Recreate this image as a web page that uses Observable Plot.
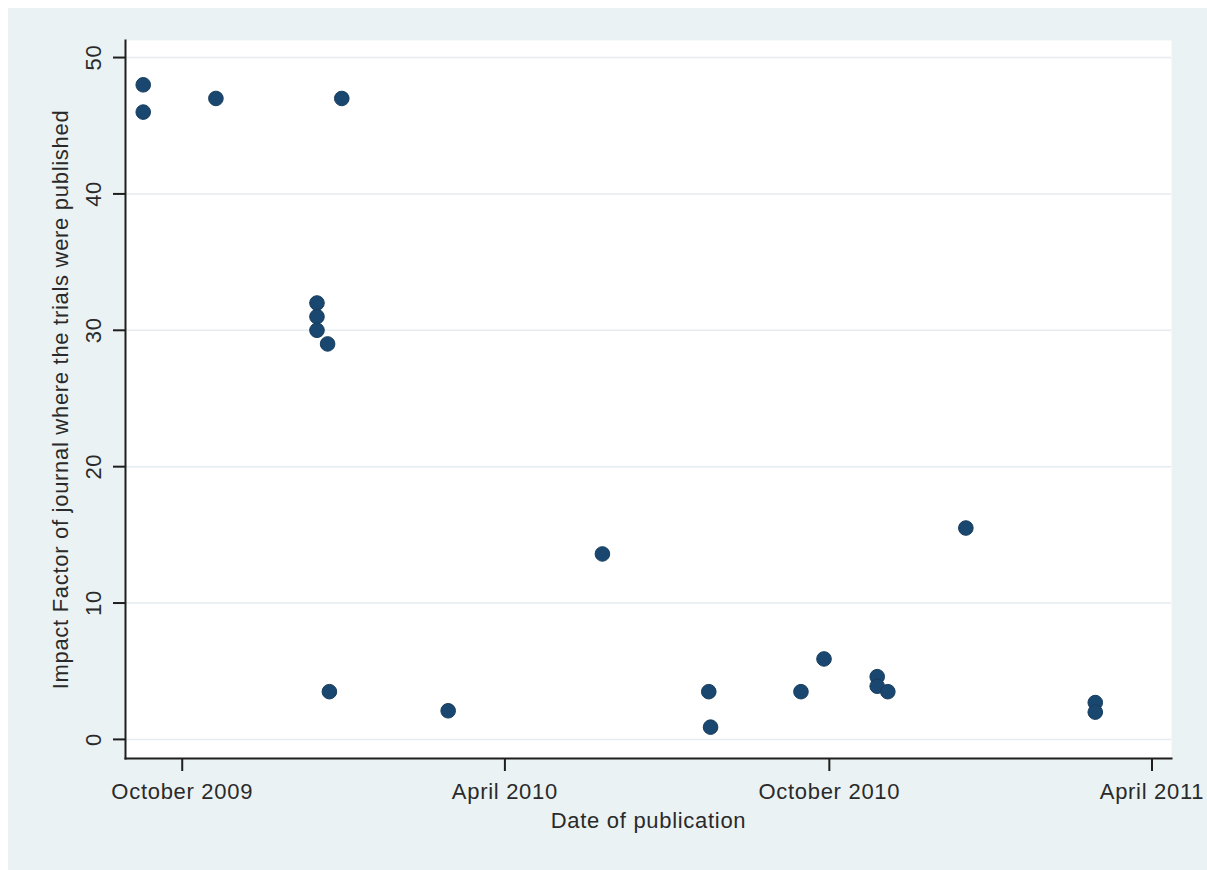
<!DOCTYPE html>
<html>
<head>
<meta charset="utf-8">
<script src="https://cdn.jsdelivr.net/npm/d3@7"></script>
<script src="https://cdn.jsdelivr.net/npm/@observablehq/plot@0.6"></script>
<style>
  html, body { margin: 0; padding: 0; background: #ffffff; overflow: hidden; }
  #chart { position: absolute; left: 8px; top: 8px; }
  #chart svg text { letter-spacing: 0.7px; }
</style>
</head>
<body>
<div id="chart"></div>
<script>
// Data
const pubDates = [
  "2009-09-09", "2009-09-09", "2009-10-20", "2009-12-30",
  "2009-12-16", "2009-12-16", "2009-12-16", "2009-12-22",
  "2009-12-23", "2010-02-28", "2010-05-26", "2010-07-25", "2010-07-26",
  "2010-09-15", "2010-09-28", "2010-10-28", "2010-10-28", "2010-11-03",
  "2010-12-17", "2011-02-28", "2011-02-28"
];
const impactFactors = [
  48, 46, 47, 47,
  32, 31, 30, 29,
  3.5, 2.1, 13.6, 3.5, 0.9,
  3.5, 5.9, 4.6, 3.9, 3.5,
  15.5, 2.7, 2.0
];
const xTicks = ["2009-10-01", "2010-04-01", "2010-10-01", "2011-04-01"];
const yTicks = [0, 10, 20, 30, 40, 50];
const xDomain = ["2009-08-30", "2011-04-12"];
const yDomain = [-1.4, 51.25];
const xTitle = "Date of publication";
const yTitle = "Impact Factor of journal where the trials were published";

const parse = d3.utcParse("%Y-%m-%d");
const data = pubDates.map((d, i) => ({ date: parse(d), impact: impactFactors[i] }));

const textColor = "#2a2a2a";
const axisColor = "#1e1e1e";

const chart = Plot.plot({
  width: 1199,
  height: 862,
  marginLeft: 117,
  marginRight: 36,
  marginTop: 32,
  marginBottom: 112,
  style: {
    background: "#eaf2f3",
    fontFamily: "'Liberation Sans', Arial, sans-serif",
    fontSize: "22px",
    color: textColor,
    overflow: "visible"
  },
  x: { type: "utc", domain: xDomain.map(parse) },
  y: { domain: yDomain },
  marks: [
    Plot.frame({ fill: "white", stroke: "none" }),
    Plot.gridY(yTicks, { stroke: "#e4ecef", strokeOpacity: 1, strokeWidth: 1.5 }),
    Plot.frame({ anchor: "left", stroke: axisColor, strokeWidth: 2 }),
    Plot.frame({ anchor: "bottom", stroke: axisColor, strokeWidth: 2 }),
    Plot.axisX(xTicks.map(parse), {
      tickSize: 13, tickPadding: 12, tickFormat: d3.utcFormat("%B %Y"),
      label: null, stroke: axisColor, strokeWidth: 2, fill: textColor
    }),
    Plot.axisY(yTicks, {
      tickSize: 12, tickRotate: -90, tickPadding: 13,
      label: null, stroke: axisColor, strokeWidth: 2, fill: textColor
    }),
    Plot.dot(data, { x: "date", y: "impact", r: 7.3, fill: "#1a476f", stroke: "#163c5e", strokeWidth: 1 }),
    Plot.text([xTitle], { frameAnchor: "bottom", lineAnchor: "top", textAnchor: "middle", dy: 54, fill: textColor, fontSize: 22 }),
    Plot.text([yTitle], { frameAnchor: "left", rotate: -90, lineAnchor: "top", textAnchor: "middle", dx: -73, fill: textColor, fontSize: 22 })
  ]
});

document.getElementById("chart").appendChild(chart);
</script>
</body>
</html>
